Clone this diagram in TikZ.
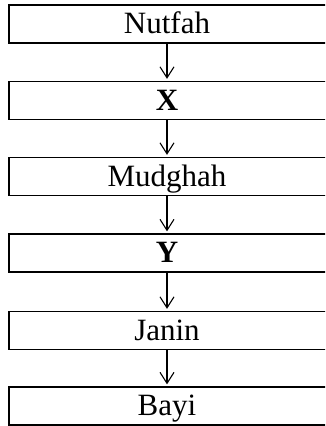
\documentclass[tikz,border=0pt]{standalone}
\usepackage{fontspec}
\setmainfont{Liberation Serif}
\usetikzlibrary{arrows.meta}
\begin{document}
\begin{tikzpicture}[x=1pt,y=-1pt,
  box/.style={draw=black, line width=1.3pt, rectangle, inner sep=0pt,
    minimum width=331pt, minimum height=38pt, text height=19pt, text depth=0pt,
    font=\fontsize{31}{36}\selectfont},
  conn/.style={line width=1.1pt, -{Straight Barb[length=11pt,width=14pt,line width=1.1pt]}, shorten >=2pt}]
\useasboundingbox (0,0) rectangle (325,426);
\clip (0,0) rectangle (325,426);
\node[box] (n1) at (174.5,24) {\kern-15pt Nutfah};
\node[box] (n2) at (174.5,100.5) {\kern-15pt\textbf{X}};
\node[box] (n3) at (174.5,176.5) {\kern-15pt Mudghah};
\node[box] (n4) at (174.5,253) {\kern-15pt\textbf{Y}};
\node[box] (n5) at (174.5,330.5) {\kern-15pt Janin};
\node[box] (n6) at (174.5,406) {\kern-15pt Bayi};
\draw[conn] (n1.south -| 167,0) -- (n2.north -| 167,0);
\draw[conn] (n2.south -| 167,0) -- (n3.north -| 167,0);
\draw[conn] (n3.south -| 167,0) -- (n4.north -| 167,0);
\draw[conn] (n4.south -| 167,0) -- (n5.north -| 167,0);
\draw[conn] (n5.south -| 167,0) -- (n6.north -| 167,0);
\end{tikzpicture}
\end{document}
